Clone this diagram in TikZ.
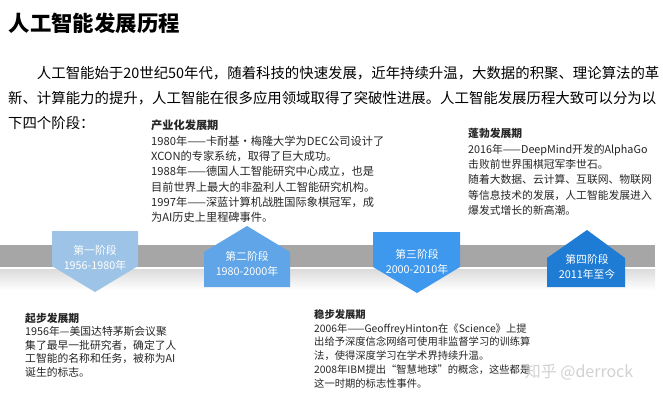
\documentclass[tikz,border=0pt]{standalone}
\usepackage{fontspec}
\setmainfont{Noto Sans CJK SC}
\newfontfamily\titlefont{Noto Sans CJK SC Black}
\usepackage{tikz}
\usetikzlibrary{positioning}

\definecolor{bandgray}{RGB}{166,166,166}
\definecolor{stA}{RGB}{157,195,230}
\definecolor{stB}{RGB}{95,165,232}
\definecolor{stC}{RGB}{62,152,238}
\definecolor{stD}{RGB}{30,124,212}

\begin{document}
\begin{tikzpicture}[x=1pt,y=-1pt,
  blk/.style={anchor=north west, inner sep=0pt, align=left, text=black!85},
  lbl/.style={text=white, inner sep=0pt, align=center, font=\fontsize{10.8}{15}\selectfont}]
  \useasboundingbox (0,0) rectangle (663,400);
  \fill[white] (0,0) rectangle (663,400);
  % heading and intro
  \node[anchor=north west, inner sep=0pt, font=\fontsize{21.4}{24}\selectfont\titlefont] (title) at (8.5,13) {人工智能发展历程};
  \node[blk, text=black, font=\fontsize{14.4}{25}\selectfont] (intro) at (8,66.5)
    {\hspace*{2em}人工智能始于20世纪50年代，随着科技的快速发展，近年持续升温，大数据的积聚、理论算法的革\\
     新、计算能力的提升，人工智能在很多应用领域取得了突破性进展。人工智能发展历程大致可以分为以\\
     下四个阶段：};
  % timeline band
  \fill[bandgray] (0,245) rectangle (655,267);
  \shade[top color=black!14, bottom color=white] (0,269) rectangle (655,290);
  % stage markers
  \fill[stA] (52,231) -- (138,231) -- (138,266) -- (95,292) -- (52,266) -- cycle;
  \fill[stB] (247,226) -- (290,252) -- (290,287) -- (204,287) -- (204,252) -- cycle;
  \fill[stC] (373,232) -- (460,232) -- (460,267) -- (417,293) -- (373,267) -- cycle;
  \fill[stD] (587,230) -- (625,258) -- (625,287) -- (547,287) -- (547,258) -- cycle;
  \node[lbl] (s1) at (95,257.5) {第一阶段\\1956-1980年};
  \node[lbl] (s2) at (247,264) {第二阶段\\1980-2000年};
  \node[lbl] (s3) at (417,261.5) {第三阶段\\2000-2010年};
  \node[lbl] (s4) at (587,266.5) {第四阶段\\2011年至今};
  % period notes
  \node[blk, font=\fontsize{10.8}{13.5}\selectfont] (qibu) at (25,312.6)
    {\textbf{起步发展期}\\
     1956年—美国达特茅斯会议聚\\
     集了最早一批研究者，确定了人\\
     工智能的名称和任务，被称为AI\\
     诞生的标志。};
  \node[blk, font=\fontsize{11.2}{15.3}\selectfont] (chanye) at (151,120)
    {\textbf{产业化发展期}\\
     1980年——卡耐基•梅隆大学为DEC公司设计了\\
     XCON的专家系统，取得了巨大成功。\\
     1988年——德国人工智能研究中心成立，也是\\
     目前世界上最大的非盈利人工智能研究机构。\\
     1997年——深蓝计算机战胜国际象棋冠军，成\\
     为AI历史上里程碑事件。};
  \node[blk, font=\fontsize{10.3}{13.7}\selectfont] (wenbu) at (314,309.4)
    {\textbf{稳步发展期}\\
     2006年——GeoffreyHinton在《Science》上提\\
     出给予深度信念网络可使用非监督学习的训练算\\
     法，使得深度学习在学术界持续升温。\\
     2008年IBM提出“智慧地球”的概念，这些都是\\
     这一时期的标志性事件。};
  \node[blk, font=\fontsize{10.8}{15.3}\selectfont] (bobo) at (468,128.4)
    {\textbf{蓬勃发展期}\\
     2016年——DeepMind开发的AlphaGo\\
     击败前世界围棋冠军李世石。\\
     随着大数据、云计算、互联网、物联网\\
     等信息技术的发展，人工智能发展进入\\
     爆发式增长的新高潮。};
  \node[text=black!18, inner sep=0pt, font=\fontsize{16}{16}\selectfont] (wm) at (579,372) {知乎 @derrock};
\end{tikzpicture}
\end{document}
